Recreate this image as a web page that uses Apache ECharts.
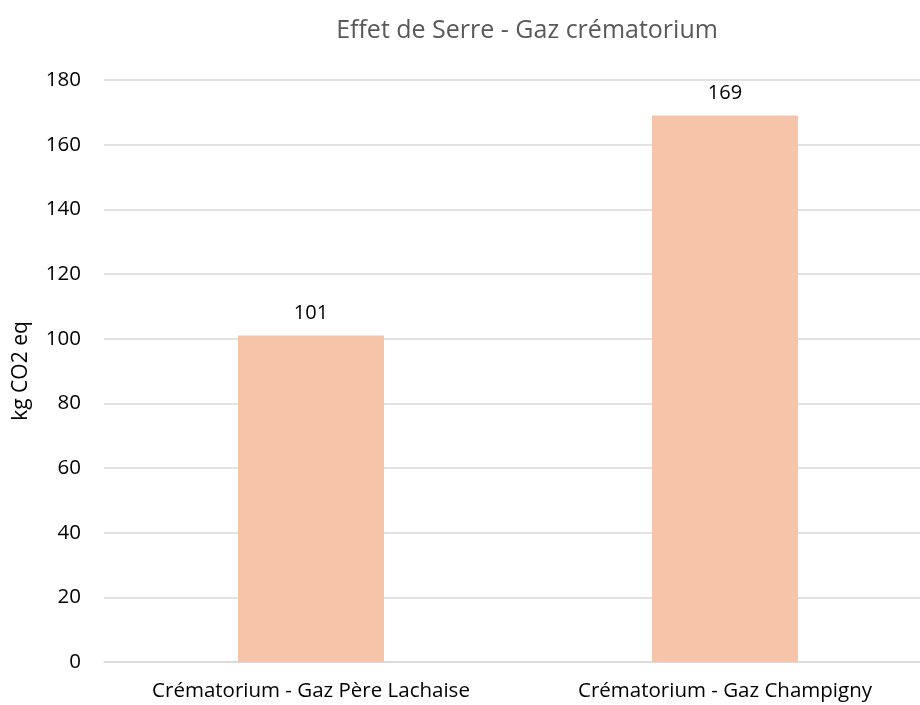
<!DOCTYPE html>
<html>
<head>
<meta charset="utf-8">
<script src="https://cdn.jsdelivr.net/npm/echarts@6/dist/echarts.min.js"></script>
<style>
  html, body { margin: 0; padding: 0; background: #fff; }
  #chart { width: 920px; height: 705px; }
</style>
</head>
<body>
<div id="chart"></div>
<script>
// données
const categories = ['Crématorium - Gaz Père Lachaise', 'Crématorium - Gaz Champigny'];
const values = [101, 169];
const yTicks = { min: 0, max: 180, interval: 20 };

let myChart = echarts.init(document.getElementById('chart'));

myChart.setOption({
  animation: false,
  title: {
    text: 'Effet de Serre - Gaz crématorium',
    left: 522,
    top: 13,
    textAlign: 'center',
    textStyle: {
      fontFamily: 'Open Sans',
      fontWeight: 'normal',
      fontSize: 25,
      color: '#595959'
    }
  },
  grid: {
    left: 104,
    width: 828,
    top: 80,
    bottom: 43,
    outerBoundsMode: 'none'
  },
  xAxis: {
    type: 'category',
    data: categories,
    axisTick: { show: false },
    axisLine: { lineStyle: { color: '#d9d9d9', width: 1.5 } },
    axisLabel: {
      color: '#000',
      fontFamily: 'Open Sans',
      fontSize: 20.5,
      margin: 19
    }
  },
  yAxis: {
    type: 'value',
    min: yTicks.min,
    max: yTicks.max,
    interval: yTicks.interval,
    name: 'kg CO2 eq',
    nameLocation: 'middle',
    nameGap: 72,
    nameTextStyle: {
      color: '#000',
      fontFamily: 'Open Sans',
      fontSize: 21
    },
    axisLine: { show: false },
    axisTick: { show: false },
    splitLine: { lineStyle: { color: '#d9d9d9', width: 1.5 } },
    axisLabel: {
      color: '#000',
      fontFamily: 'Open Sans',
      fontSize: 20.5,
      margin: 23
    }
  },
  series: [
    {
      type: 'bar',
      data: values,
      barWidth: 146,
      itemStyle: { color: '#F6C4A9' },
      label: {
        show: true,
        position: 'top',
        distance: 12,
        color: '#000',
        fontFamily: 'Open Sans',
        fontSize: 20
      }
    }
  ]
});
</script>
</body>
</html>
